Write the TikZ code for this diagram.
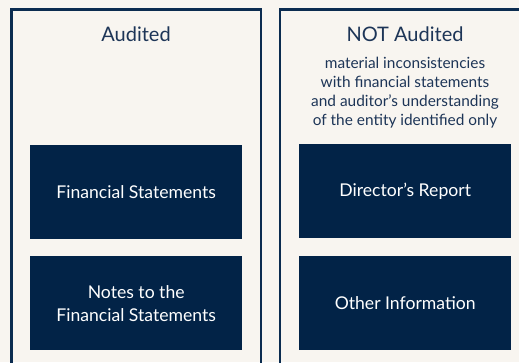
\documentclass[tikz,border=0pt]{standalone}
\usepackage{fontspec}
\setmainfont{Lato}
\definecolor{bgc}{HTML}{F8F5F0}
\definecolor{navy}{HTML}{022347}
\definecolor{framec}{HTML}{0B2C50}
\definecolor{headc}{HTML}{1D3557}
\begin{document}
\begin{tikzpicture}[x=1pt,y=-1pt,
  frame/.style={draw=framec,line width=2.8pt},
  darkbox/.style={fill=navy,draw=none,minimum width=212pt,minimum height=94pt,inner sep=0pt,anchor=north west,text=white,align=center,font=\fontsize{17.6}{23}\selectfont},
  header/.style={text=headc,font=\fontsize{20}{24}\selectfont},
  note/.style={text=headc,align=center,font=\fontsize{15.4}{19}\selectfont}]
\fill[bgc] (0,0) rectangle (519,362);
\useasboundingbox (0,0) rectangle (519,362);
\draw[frame] (11.5,365) -- (11.5,9.5) -- (261,9.5) -- (261,365);
\draw[frame] (280,365) -- (280,9.5) -- (522,9.5);
\node[header] (aud) at (136,34) {Audited};
\node[header] (naud) at (405,34) {NOT Audited};
\node[note] (nt) at (405,93) {material inconsistencies\\with financial statements\\and auditor’s understanding\\of the entity identified only};
\node[darkbox] (fs) at (30,145) {Financial Statements};
\node[darkbox] (nfs) at (30,256) {Notes to the\\Financial Statements};
\node[darkbox] (dr) at (299,144) {Director’s Report};
\node[darkbox] (oi) at (299,256) {Other Information};
\end{tikzpicture}
\end{document}
